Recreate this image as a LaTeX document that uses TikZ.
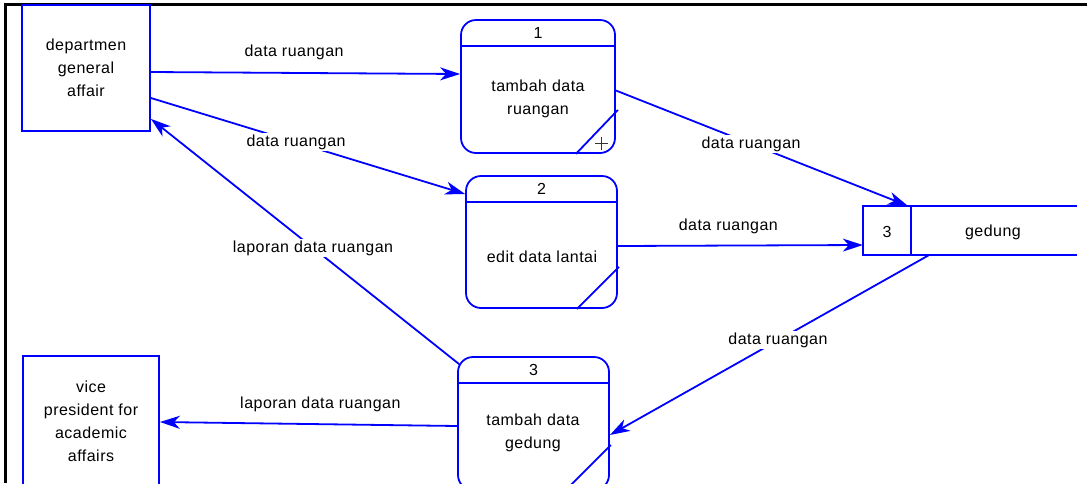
\documentclass[tikz,border=0pt]{standalone}
\usepackage{fontspec}
\setmainfont{Liberation Sans}[LetterSpace=3]
\usetikzlibrary{arrows.meta,calc}

\tikzset{
  ln/.style={draw=blue, line width=1.8pt},
  flow/.style={ln, -{Stealth[length=20pt,width=13pt,inset=6pt]}},
  ext/.style={ln, rectangle, inner sep=0pt, align=center},
  proc/.style={ln, rectangle, rounded corners=15pt, inner sep=0pt},
  txt/.style={align=center, inner sep=0pt},
  lbl/.style={fill=white, inner sep=1.5pt},
  frame/.style={draw=black, line width=2.6pt}
}

\begin{document}
\begin{tikzpicture}[x=1pt, y=-1pt, font=\fontsize{16}{23}\selectfont, text=black]
\useasboundingbox (0,0) rectangle (1087,483);
\clip (0,0) rectangle (1087,483);
\fill[white] (0,0) rectangle (1087,483);

% outer frame (top and left edges)
\draw[frame] (5.5,483) -- (5.5,4.5) -- (1087,4.5);

% external entities
\node[ext, minimum width=128pt, minimum height=126pt] (e1) at (86,68) {departmen\\general\\affair};
\node[ext, minimum width=136pt, minimum height=130pt] (e2) at (91,421) {vice\\president for\\academic\\affairs};

% processes
\node[proc, minimum width=154pt, minimum height=133pt] (p1) at (538,86.5) {};
\node[proc, minimum width=151pt, minimum height=132pt] (p2) at (541.5,242) {};
\node[proc, minimum width=151pt, minimum height=133pt] (p3) at (533.5,423.5) {};

\foreach \p/\n in {p1/1, p2/2, p3/3}{
  \draw[ln] ($(\p.north west)+(0,27)$) -- ($(\p.north east)+(0,27)$);
  \node[txt] (\p n) at ($(\p.north)+(0,13.5)$) {\n};
}
\node[txt] (p1t) at (538,99) {tambah data\\ruangan};
\node[txt] (p2t) at (542,257) {edit data lantai};
\node[txt] (p3t) at (533,433) {tambah data\\gedung};

% corner marks
\draw[ln] ($(p1.south east)+(-40,0)$) -- ($(p1.south east)+(2,-44)$);
\draw[ln] ($(p2.south east)+(-41,0)$) -- ($(p2.south east)+(1,-42)$);
\draw[ln] ($(p3.south east)+(-45,0)$) -- ($(p3.south east)+(1,-46)$);
\draw[black!80, line width=1pt] (594.5,143) -- (607.5,143) (601,136.5) -- (601,149.5);

% data store
\node[inner sep=0pt, minimum width=214pt, minimum height=49pt] (ds) at (970,230.5) {};
\draw[ln] (ds.north east) -- (ds.north west) -- (ds.south west) -- (ds.south east);
\draw[ln] ($(ds.north west)+(48,0)$) -- ($(ds.south west)+(48,0)$);
\node[txt] (dsn) at (887,232) {3};
\node[txt] (dst) at (993,232) {gedung};

% data flows
\draw[flow] ($(e1.east)+(0,4)$) -- node[lbl, pos=0.463, yshift=21pt] {data ruangan} ($(p1.west)+(0,-12.5)$);
\draw[flow] ($(e1.east)+(0,30)$) -- node[lbl, pos=0.462] {data ruangan} ($(p2.west)+(0,-48)$);
\draw[flow] ($(p3.north west)+(2,8)$) -- node[lbl, pos=0.474] {laporan data ruangan} ($(e1.south east)+(0,-13)$);
\draw[flow] ($(p1.east)+(0,4)$) -- node[lbl, pos=0.463] {data ruangan} ($(ds.north west)+(45,0)$);
\draw[flow] ($(p2.east)+(0,4)$) -- node[lbl, pos=0.451, yshift=19pt] {data ruangan} ($(ds.west)+(0,14.5)$);
\draw[flow] ($(ds.south west)+(66,0)$) -- node[lbl, pos=0.473] {data ruangan} ($(p3.east)+(0,11.5)$);
\draw[flow] ($(p3.west)+(0,2.5)$) -- node[lbl, pos=0.46, yshift=20pt] {laporan data ruangan} ($(e2.east)+(0,1)$);
\end{tikzpicture}
\end{document}
